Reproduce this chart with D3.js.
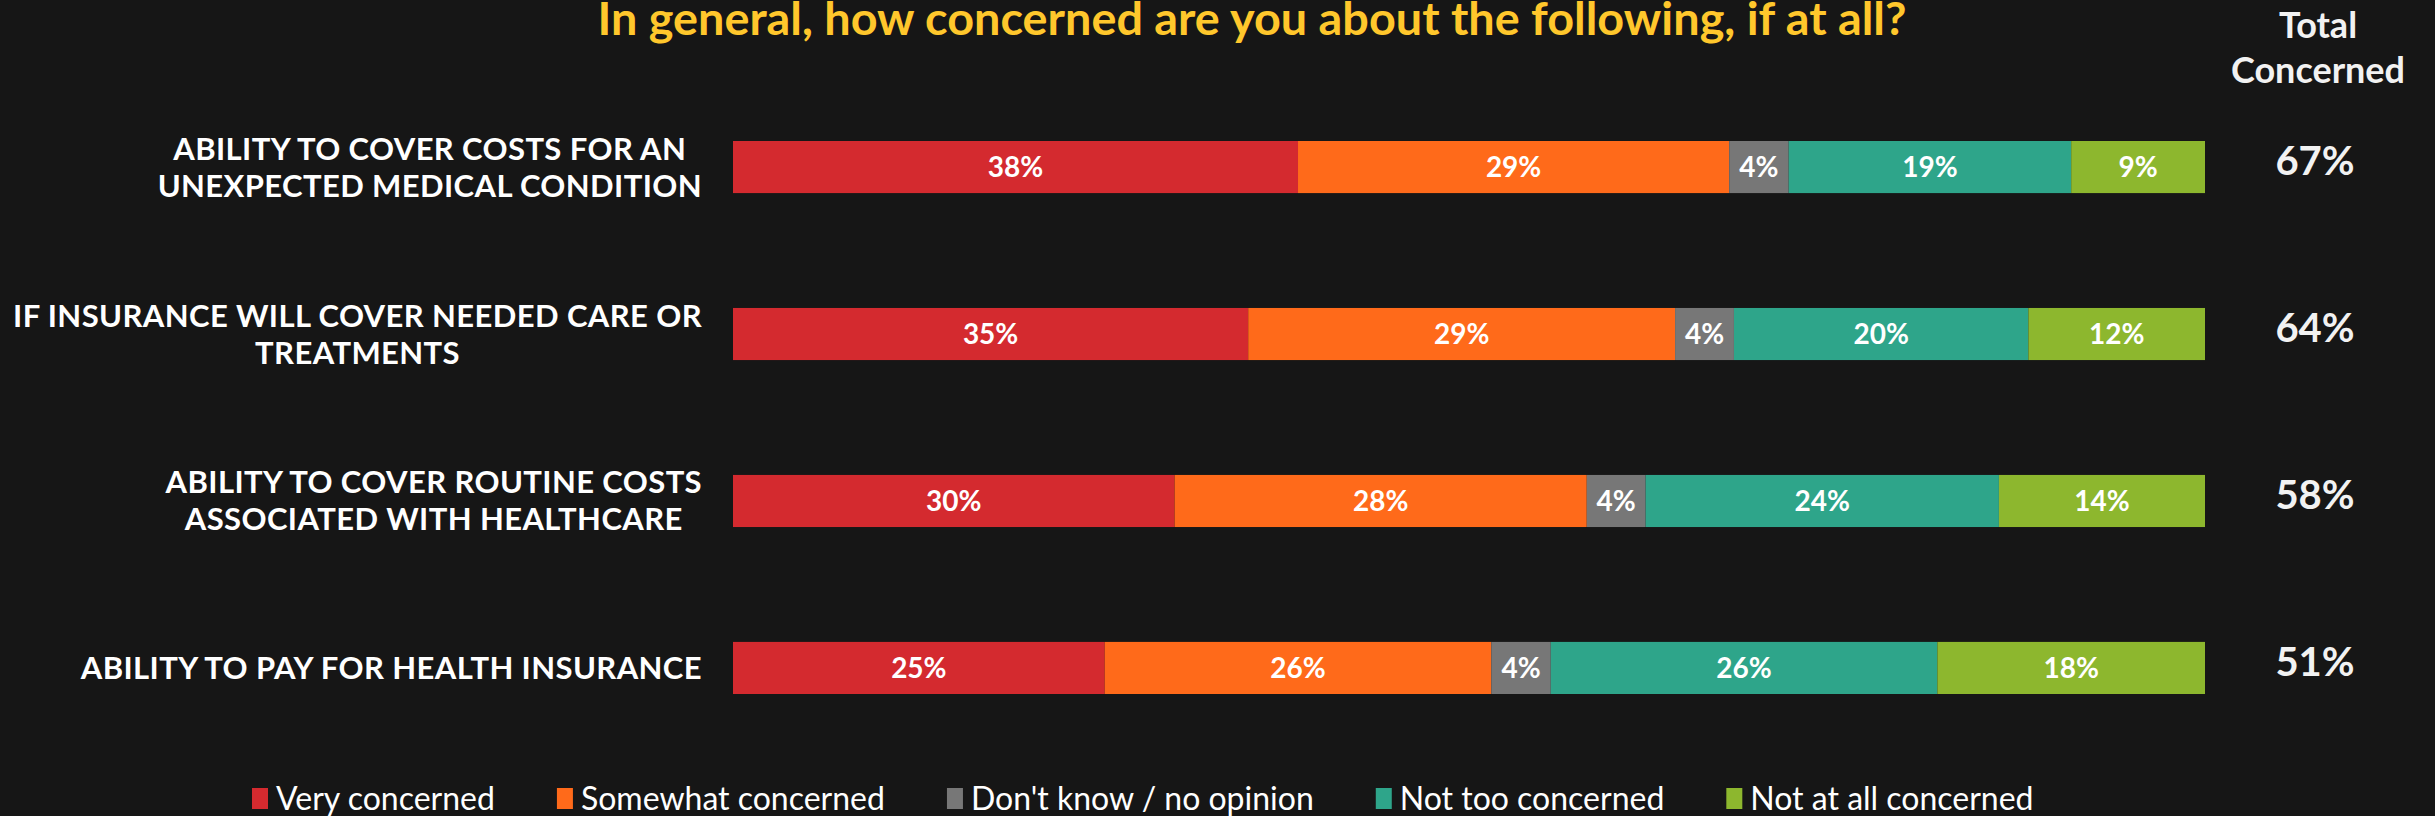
<!DOCTYPE html>
<html>
<head>
<meta charset="utf-8">
<script src="https://cdn.jsdelivr.net/npm/d3@7"></script>
<style>
  html, body { margin: 0; padding: 0; background: #161616; }
  svg { display: block; }
</style>
</head>
<body>
<svg id="chart" width="2435" height="816"></svg>
<script>
// data
const categories = [
  ["ABILITY TO COVER COSTS FOR AN", "UNEXPECTED MEDICAL CONDITION"],
  ["IF INSURANCE WILL COVER NEEDED CARE OR", "TREATMENTS"],
  ["ABILITY TO COVER ROUTINE COSTS", "ASSOCIATED WITH HEALTHCARE"],
  ["ABILITY TO PAY FOR HEALTH INSURANCE"]
];
const seriesNames = ["Very concerned", "Somewhat concerned", "Don't know / no opinion", "Not too concerned", "Not at all concerned"];
const veryConcerned = [38, 35, 30, 25];
const somewhatConcerned = [29, 29, 28, 26];
const dontKnow = [4, 4, 4, 4];
const notTooConcerned = [19, 20, 24, 26];
const notAtAllConcerned = [9, 12, 14, 18];
const totalConcerned = [67, 64, 58, 51];

const colors = ["#d42a2f", "#ff6a1a", "#777777", "#2ea58a", "#8db72e"];
const seriesValues = [veryConcerned, somewhatConcerned, dontKnow, notTooConcerned, notAtAllConcerned];

const svg = d3.select("#chart");
const font = "Lato, 'Open Sans', sans-serif";

const barLeft = 733, barRight = 2205;
const totalX = 2315;

const y = d3.scaleBand()
  .domain(d3.range(categories.length))
  .range([141, 694])
  .paddingInner(0.688)
  .paddingOuter(0);

// 标题
svg.append("text")
  .attr("x", 1252)
  .attr("y", 35)
  .attr("text-anchor", "middle")
  .attr("fill", "#ffc72c")
  .attr("font-family", font)
  .attr("font-weight", 700)
  .attr("font-size", 46)
  .attr("textLength", 1309)
  .attr("lengthAdjust", "spacingAndGlyphs")
  .text("In general, how concerned are you about the following, if at all?");

// 右侧表头
const head = svg.append("text")
  .attr("text-anchor", "middle")
  .attr("fill", "#f2f2f2")
  .attr("font-family", font)
  .attr("font-weight", 700)
  .attr("font-size", 36);
head.append("tspan").attr("x", totalX + 3).attr("y", 38).text("Total");
head.append("tspan").attr("x", totalX + 3).attr("y", 83).text("Concerned");

// 每一行
categories.forEach((lines, i) => {
  const row = seriesValues.map(s => s[i]);
  const sum = d3.sum(row);
  const x = d3.scaleLinear().domain([0, sum]).range([barLeft, barRight]);
  const top = y(i), h = y.bandwidth(), cy = top + h / 2;

  let acc = 0;
  const segs = row.map((v, k) => {
    const s = { v, k, x0: acc, x1: acc + v };
    acc += v;
    return s;
  });

  const g = svg.append("g");
  g.selectAll("rect").data(segs).join("rect")
    .attr("x", d => x(d.x0))
    .attr("y", top)
    .attr("width", d => x(d.x1) - x(d.x0))
    .attr("height", h)
    .attr("fill", d => colors[d.k]);

  g.selectAll("text").data(segs).join("text")
    .attr("x", d => (x(d.x0) + x(d.x1)) / 2)
    .attr("y", cy + 10)
    .attr("text-anchor", "middle")
    .attr("fill", "#ffffff")
    .attr("font-family", font)
    .attr("font-weight", 700)
    .attr("font-size", 28)
    .text(d => d.v + "%");

  // 左侧标签：右对齐的块，行内居中
  const lab = svg.append("text")
    .attr("fill", "#ffffff")
    .attr("font-family", font)
    .attr("font-weight", 700)
    .attr("font-size", 31)
    .attr("letter-spacing", 0.4)
    .attr("text-anchor", "middle");
  const lineH = 37;
  const tsp = lines.map((t, j) => lab.append("tspan")
    .attr("y", cy + 11 + (j - (lines.length - 1) / 2) * lineH)
    .text(t));
  const widths = tsp.map(t => t.node().getComputedTextLength());
  const blockW = d3.max(widths);
  tsp.forEach(t => t.attr("x", 702 - blockW / 2));

  // 合计
  svg.append("text")
    .attr("x", totalX)
    .attr("y", cy + 8)
    .attr("text-anchor", "middle")
    .attr("fill", "#f2f2f2")
    .attr("font-family", font)
    .attr("font-weight", 700)
    .attr("font-size", 40)
    .text(totalConcerned[i] + "%");
});

// 图例
const legend = svg.append("g");
let lx = 252;
seriesNames.forEach((name, k) => {
  legend.append("rect")
    .attr("x", lx)
    .attr("y", 788)
    .attr("width", 16)
    .attr("height", 21)
    .attr("fill", colors[k]);
  const t = legend.append("text")
    .attr("x", lx + 24)
    .attr("y", 810)
    .attr("fill", "#ffffff")
    .attr("font-family", font)
    .attr("font-weight", 400)
    .attr("font-size", 32)
    .text(name);
  lx += 24 + t.node().getComputedTextLength() + 62;
});
</script>
</body>
</html>
